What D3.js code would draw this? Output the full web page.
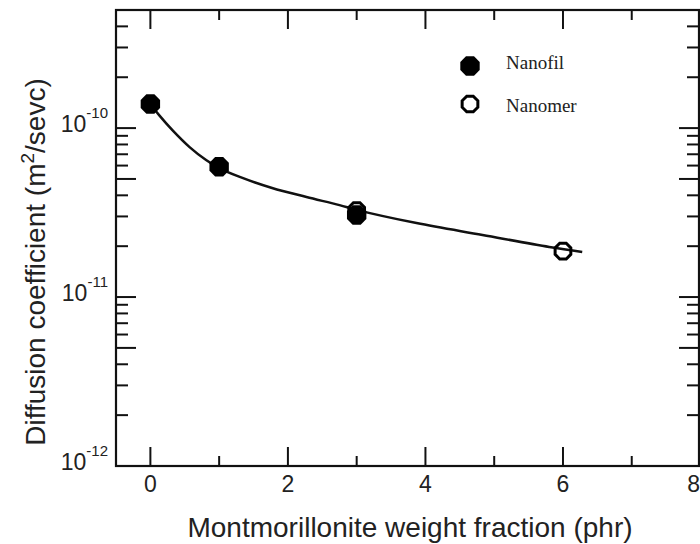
<!DOCTYPE html>
<html><head><meta charset="utf-8">
<script src="https://cdn.jsdelivr.net/npm/d3@7"></script>
<style>body{margin:0;background:#fff}svg{display:block}</style>
</head><body>
<svg id="c" width="700" height="544"></svg>
<script>
// Data
const nanofilX = [0, 1, 3];
const nanofilY = [1.39e-10, 5.9e-11, 3.06e-11];
const nanomerX = [3, 6];
const nanomerY = [3.25e-11, 1.87e-11];
const fitX = [0, 0.13, 0.32, 0.57, 0.81, 1.0, 1.29, 1.77, 2.27, 2.75, 3.01, 3.87, 4.83, 5.8, 6.28];
const fitY = [1.39e-10, 1.19e-10, 9.73e-11, 7.72e-11, 6.47e-11, 5.8e-11, 5.16e-11, 4.42e-11, 3.91e-11, 3.5e-11, 3.27e-11, 2.74e-11, 2.33e-11, 1.98e-11, 1.85e-11];
const xMajor = [0, 2, 4, 6, 8];
const xMinor = [1, 3, 5, 7];
const yDecades = [1e-12, 1e-11, 1e-10];
const yDecadeLabels = ["-12", "-11", "-10"];
const legendNames = ["Nanofil", "Nanomer"];

const svg = d3.select("#c");
const L = 116, R = 699, T = 10, B = 466;
const x = d3.scaleLinear().domain([-0.5, 8]).range([L, 700.5]);
const y = d3.scaleLog().domain([1e-12, 5e-10]).range([B, T]);

const yMajorVals = [], yMinorVals = [];
yDecades.forEach(d => {
  for (let k = 1; k <= 9; k++) {
    const v = d * k;
    if (v > 5e-10 * 1.0001) continue;
    if (k === 1 || k === 5) yMajorVals.push(v); else yMinorVals.push(v);
  }
});

const g = svg.append("g");
const tickStyle = s => s.attr("stroke", "#111").attr("stroke-width", 2);
xMajor.forEach(v => {
  tickStyle(g.append("line").attr("x1", x(v)).attr("x2", x(v)).attr("y1", B).attr("y2", B - 19));
  tickStyle(g.append("line").attr("x1", x(v)).attr("x2", x(v)).attr("y1", T).attr("y2", T + 19));
});
xMinor.forEach(v => {
  tickStyle(g.append("line").attr("x1", x(v)).attr("x2", x(v)).attr("y1", B).attr("y2", B - 10));
  tickStyle(g.append("line").attr("x1", x(v)).attr("x2", x(v)).attr("y1", T).attr("y2", T + 10));
});
yMajorVals.forEach(v => {
  tickStyle(g.append("line").attr("x1", L).attr("x2", L + 20).attr("y1", y(v)).attr("y2", y(v)));
  tickStyle(g.append("line").attr("x1", R).attr("x2", R - 20).attr("y1", y(v)).attr("y2", y(v)));
});
yMinorVals.forEach(v => {
  tickStyle(g.append("line").attr("x1", L).attr("x2", L + 12).attr("y1", y(v)).attr("y2", y(v)));
  tickStyle(g.append("line").attr("x1", R).attr("x2", R - 12).attr("y1", y(v)).attr("y2", y(v)));
});

svg.append("rect").attr("x", L).attr("y", T).attr("width", R - L).attr("height", B - T)
  .attr("fill", "none").attr("stroke", "#111").attr("stroke-width", 2.2);

const font = "Liberation Sans, Arial, sans-serif";
xMajor.forEach((v, i) => {
  const last = i === xMajor.length - 1;
  svg.append("text").attr("x", last ? 700 : x(v)).attr("y", 492)
    .attr("text-anchor", last ? "end" : "middle")
    .attr("font-family", font).attr("font-size", 23).attr("fill", "#222").text(v);
});
yDecades.forEach((v, i) => {
  const t = svg.append("text").attr("x", 108).attr("y", y(v) + 4).attr("text-anchor", "end")
    .attr("font-family", font).attr("font-size", 23).attr("fill", "#222");
  t.append("tspan").text("10");
  t.append("tspan").attr("dy", -14).attr("font-size", 15).text(yDecadeLabels[i]);
});

svg.append("text").attr("x", 410).attr("y", 537).attr("text-anchor", "middle")
  .attr("font-family", font).attr("font-size", 28).attr("fill", "#222")
  .text("Montmorillonite weight fraction (phr)");
const yt = svg.append("text").attr("transform", "translate(45,262) rotate(-90)")
  .attr("text-anchor", "middle").attr("font-family", font).attr("font-size", 28).attr("fill", "#222");
yt.append("tspan").text("Diffusion coefficient (m");
yt.append("tspan").attr("dy", -11).attr("font-size", 19).text("2");
yt.append("tspan").attr("dy", 11).text("/sevc)");

const fit = fitX.map((d, i) => [d, fitY[i]]);
svg.append("path").datum(fit)
  .attr("d", d3.line().x(d => x(d[0])).y(d => y(d[1])).curve(d3.curveCatmullRom.alpha(0.5)))
  .attr("fill", "none").attr("stroke", "#111").attr("stroke-width", 2.5);

function oct(r) {
  const pts = d3.range(8).map(k => {
    const a = Math.PI / 8 + k * Math.PI / 4;
    return [r * Math.cos(a), r * Math.sin(a)];
  });
  return "M" + pts.map(p => p.join(",")).join("L") + "Z";
}

svg.selectAll(".nf").data(nanofilX.map((d, i) => [d, nanofilY[i]])).enter().append("path")
  .attr("transform", d => `translate(${x(d[0])},${y(d[1])})`)
  .attr("d", oct(10.5)).attr("fill", "#000");
svg.selectAll(".nm").data(nanomerX.map((d, i) => [d, nanomerY[i]])).enter().append("path")
  .attr("transform", d => `translate(${x(d[0])},${y(d[1])})`)
  .attr("d", oct(8.5)).attr("fill", "none").attr("stroke", "#000").attr("stroke-width", 3);

svg.append("path").attr("transform", "translate(470,66)").attr("d", oct(10.5)).attr("fill", "#000");
svg.append("path").attr("transform", "translate(470,104)").attr("d", oct(8.5))
  .attr("fill", "none").attr("stroke", "#000").attr("stroke-width", 3);
const serif = "Liberation Serif, Times New Roman, serif";
svg.append("text").attr("x", 506).attr("y", 69).attr("font-family", serif)
  .attr("font-size", 19).attr("fill", "#222").text(legendNames[0]);
svg.append("text").attr("x", 506).attr("y", 112).attr("font-family", serif)
  .attr("font-size", 19).attr("fill", "#222").text(legendNames[1]);
</script>
</body></html>
